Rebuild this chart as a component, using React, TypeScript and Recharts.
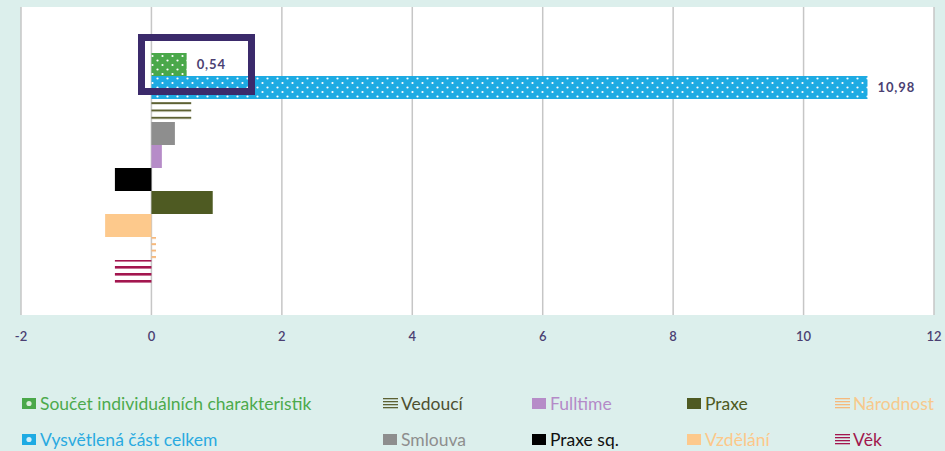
import React from 'react';
import { BarChart, Bar, XAxis, YAxis, CartesianGrid, LabelList } from 'recharts';

// one category, ten series (decomposition of the gap)
const categories = ['Rozklad'];
const seriesKeys = ['soucet', 'vysvetlena', 'vedouci', 'smlouva', 'fulltime', 'praxeSq', 'praxe', 'vzdelani', 'narodnost', 'vek'];
const seriesNames = [
  'Součet individuálních charakteristik',
  'Vysvětlená část celkem',
  'Vedoucí',
  'Smlouva',
  'Fulltime',
  'Praxe sq.',
  'Praxe',
  'Vzdělání',
  'Národnost',
  'Věk',
];
const seriesValues = [0.54, 10.98, 0.61, 0.36, 0.16, -0.56, 0.94, -0.71, 0.07, -0.56];
const labeledKeys = ['soucet', 'vysvetlena'];
const xTicks = [-2, 0, 2, 4, 6, 8, 10, 12];

const data = categories.map((name) => {
  const row: Record<string, string | number> = { name };
  seriesKeys.forEach((k, i) => (row[k] = seriesValues[i]));
  return row;
});

type IconKind = 'dots' | 'lines' | 'solid';
const styles: Record<string, { fill: string; color: string; text: string; icon: IconKind }> = {
  soucet: { fill: 'url(#dotsGreen)', color: '#4aa84a', text: '#4caa4c', icon: 'dots' },
  vysvetlena: { fill: 'url(#dotsBlue)', color: '#1eabe3', text: '#2aaae0', icon: 'dots' },
  vedouci: { fill: 'url(#linesVedouci)', color: '#5d6133', text: '#4f5030', icon: 'lines' },
  smlouva: { fill: '#8e8e8e', color: '#8e8e8e', text: '#8e8e8e', icon: 'solid' },
  fulltime: { fill: '#b68cc8', color: '#b68cc8', text: '#b48ac8', icon: 'solid' },
  praxeSq: { fill: '#000000', color: '#000000', text: '#111111', icon: 'solid' },
  praxe: { fill: '#4e5a22', color: '#4e5a22', text: '#4e5a22', icon: 'solid' },
  vzdelani: { fill: '#fdc98c', color: '#fdc98c', text: '#fcc88a', icon: 'solid' },
  narodnost: { fill: 'url(#linesNarodnost)', color: '#f6b97c', text: '#f7c98c', icon: 'lines' },
  vek: { fill: 'url(#linesVek)', color: '#a3164f', text: '#a0184d', icon: 'lines' },
};

const legendCols = [22, 383, 532, 687, 835];
const legendRows = [403, 439];

function LegendIcon({ k }: { k: string }) {
  const s = styles[k];
  if (s.icon === 'lines') {
    return (
      <svg width={15} height={12} style={{ marginRight: 3 }}>
        {[1, 4, 7, 10].map((y) => (
          <rect key={y} x={0} y={y} width={15} height={1.3} fill={s.color} />
        ))}
      </svg>
    );
  }
  return (
    <svg width={15} height={12} style={{ marginRight: 3 }}>
      <rect x={0} y={1} width={14} height={11} fill={s.color} />
      {s.icon === 'dots' && <circle cx={7} cy={6.5} r={2.6} fill="#fff" opacity={0.8} />}
    </svg>
  );
}

export default function App() {
  return (
    <div
      style={{
        position: 'absolute',
        left: 0,
        top: 0,
        width: 945,
        height: 451,
        background: '#dcefec',
        fontFamily: 'Lato, sans-serif',
        overflow: 'hidden',
      }}
    >
      <BarChart
        width={945}
        height={451}
        data={data}
        layout="vertical"
        barGap={0}
        barCategoryGap={0}
        margin={{ top: 7, right: 11, left: 21, bottom: 106 }}
      >
        <defs>
          <pattern id="dotsGreen" patternUnits="userSpaceOnUse" width={10} height={9}>
            <rect width={10} height={9} fill="#4aa84a" />
            <circle cx={2.5} cy={2} r={1.1} fill="#fff" />
            <circle cx={7.5} cy={6.5} r={1.1} fill="#fff" />
          </pattern>
          <pattern id="dotsBlue" patternUnits="userSpaceOnUse" width={10} height={9}>
            <rect width={10} height={9} fill="#1eabe3" />
            <circle cx={2.5} cy={2} r={1.1} fill="#fff" />
            <circle cx={7.5} cy={6.5} r={1.1} fill="#fff" />
          </pattern>
          <pattern id="linesVedouci" patternUnits="userSpaceOnUse" width={8} height={7.3}>
            <rect width={8} height={2} fill="#5d6133" />
          </pattern>
          <pattern id="linesNarodnost" patternUnits="userSpaceOnUse" width={8} height={6.4}>
            <rect width={8} height={2} fill="#f6b97c" />
          </pattern>
          <pattern id="linesVek" patternUnits="userSpaceOnUse" width={8} height={7}>
            <rect width={8} height={2.6} fill="#a3164f" />
          </pattern>
        </defs>
        <CartesianGrid horizontal={false} stroke="#c6c6c6" strokeWidth={1.5} fill="#ffffff" />
        <XAxis
          type="number"
          domain={[-2, 12]}
          ticks={xTicks}
          axisLine={false}
          tickLine={false}
          tickSize={0}
          tickMargin={17}
          tick={{ fill: '#4b3f72', fontSize: 13, fontWeight: 600, fontFamily: 'Lato, sans-serif' }}
        />
        <YAxis type="category" dataKey="name" hide padding={{ top: 46, bottom: 30 }} />
        {seriesKeys.map((k, i) => (
          <Bar key={k} dataKey={k} name={seriesNames[i]} fill={styles[k].fill} isAnimationActive={false}>
            {labeledKeys.includes(k) && (
              <LabelList
                dataKey={k}
                position="right"
                offset={10}
                fill="#4b3f72"
                fontSize={13}
                fontWeight="bold"
                letterSpacing={0.9}
                fontFamily="Lato, sans-serif"
                formatter={(v: any) => String(v).replace('.', ',')}
              />
            )}
          </Bar>
        ))}
      </BarChart>

      {/* highlight box around the first bar */}
      <div
        style={{
          position: 'absolute',
          left: 138,
          top: 34,
          width: 117,
          height: 61,
          border: '7px solid #3b2a6b',
          boxSizing: 'border-box',
        }}
      />

      {/* legend: two rows, column-major order */}
      {seriesKeys.map((k, i) => (
        <div
          key={k}
          style={{
            position: 'absolute',
            left: legendCols[Math.floor(i / 2)],
            top: legendRows[i % 2] - 11,
            height: 22,
            display: 'flex',
            alignItems: 'center',
            fontSize: 17.5,
            color: styles[k].text,
            whiteSpace: 'nowrap',
          }}
        >
          <LegendIcon k={k} />
          {seriesNames[i]}
        </div>
      ))}
    </div>
  );
}
